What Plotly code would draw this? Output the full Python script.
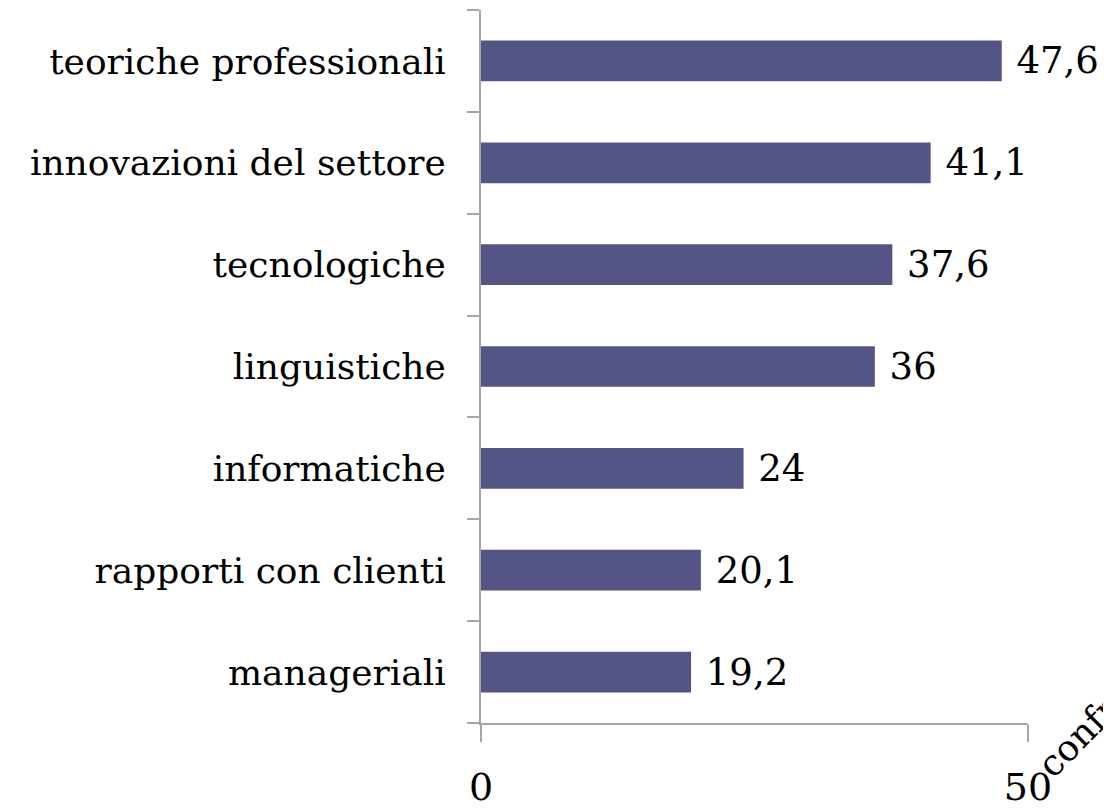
import plotly.graph_objects as go

categories = ["teoriche professionali", "innovazioni del settore", "tecnologiche",
              "linguistiche", "informatiche", "rapporti con clienti", "manageriali"]
values = [47.6, 41.1, 37.6, 36, 24, 20.1, 19.2]
x_ticks = [0, 50]
axis_title = "confronto"

font_family = "DejaVu Serif, Liberation Serif, serif"

fig = go.Figure(go.Bar(
    y=categories,
    x=values,
    orientation="h",
    marker=dict(color="#545487", line=dict(width=0)),
    width=0.4,
    texttemplate=" %{x}",
    textposition="outside",
    constraintext="none",
    textfont=dict(family=font_family, size=37, color="black"),
    cliponaxis=False,
))

# page body has an 8px default margin, so the figure is sized to fit the window
fig.update_layout(
    width=1103, height=803,
    margin=dict(l=473, r=83, t=2, b=78),
    paper_bgcolor="white", plot_bgcolor="white",
    separators=",.",
    showlegend=False,
    font=dict(family=font_family, color="black"),
)
fig.update_yaxes(
    type="category",
    categoryorder="array",
    categoryarray=categories[::-1],
    showline=True, linecolor="#a6a6a6", linewidth=2,
    ticks="outside", tickson="boundaries", ticklen=12, tickwidth=2, tickcolor="#a6a6a6",
    tickfont=dict(size=36, color="black"),
    ticklabelstandoff=26,
    showgrid=False, zeroline=False,
)
fig.update_xaxes(
    range=[0, 50],
    tickvals=x_ticks,
    ticktext=[str(v) for v in x_ticks],
    showline=True, linecolor="#a6a6a6", linewidth=2,
    ticks="outside", ticklen=17, tickwidth=2, tickcolor="#a6a6a6",
    tickfont=dict(size=38, color="black"),
    ticklabelstandoff=12,
    showgrid=False, zeroline=False,
)
fig.add_annotation(
    text=axis_title, x=1.0, y=0, xref="paper", yref="paper",
    xanchor="center", yanchor="middle", xshift=78, yshift=15,
    textangle=-45, showarrow=False,
    font=dict(family=font_family, size=36, color="black"),
)

fig.write_html("out.html")
